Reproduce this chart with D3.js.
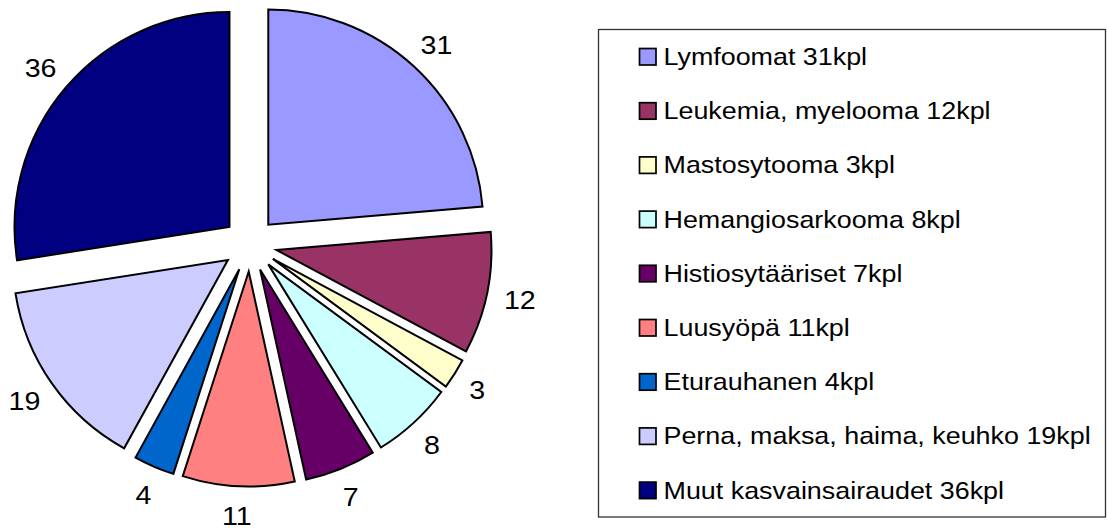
<!DOCTYPE html>
<html><head><meta charset="utf-8">
<script src="https://cdn.jsdelivr.net/npm/d3@7"></script>
<style>html,body{margin:0;padding:0;background:#fff;}svg{display:block;}</style>
</head><body>
<script>
const categories = ["Lymfoomat","Leukemia, myelooma","Mastosytooma","Hemangiosarkooma","Histiosytääriset","Luusyöpä","Eturauhanen","Perna, maksa, haima, keuhko","Muut kasvainsairaudet"];
const values = [31,12,3,8,7,11,4,19,36];
const colors = ["#9999FF","#993366","#FFFFCC","#CCFFFF","#660066","#FF8080","#0066CC","#CCCCFF","#000080"];
const legendLabels = categories.map((c,i)=>c+" "+values[i]+"kpl");

const W=1107,H=532;
const cx=250, cy=244.5, R=215, explode=27, labelR=262;
const fontFam='"Liberation Sans", Arial, sans-serif';
const stretch=1.1;

const svg=d3.select("body").append("svg").attr("width",W).attr("height",H);
const data=values.map((v,i)=>({v,i}));
const pie=d3.pie().value(d=>d.v).sort(null).startAngle(0).endAngle(2*Math.PI);
const arcs=pie(data);
const arc=d3.arc().innerRadius(0).outerRadius(R);

const g=svg.append("g").attr("transform",`translate(${cx},${cy})`);
g.selectAll("path").data(arcs).join("path")
  .attr("d",arc)
  .attr("transform",d=>{const m=(d.startAngle+d.endAngle)/2;return `translate(${explode*Math.sin(m)},${-explode*Math.cos(m)})`;})
  .attr("fill",d=>colors[d.data.i])
  .attr("stroke","#000").attr("stroke-width",2).attr("stroke-linejoin","miter");

// labels
const fs=26;
arcs.forEach(d=>{
  const m=(d.startAngle+d.endAngle)/2;
  const s=Math.sin(m), c=-Math.cos(m);
  const t=g.append("text").attr("font-family",fontFam).attr("font-size",fs).attr("fill","#000")
    .attr("text-anchor","middle").text(d.data.v);
  const w=t.node().getComputedTextLength()*stretch*0.85, h=20;
  const x=labelR*s + (w/2)*s, y=labelR*c + (h/2)*c;
  t.attr("transform",`translate(${x},${y+0.358*fs}) scale(${stretch},1)`);
});

// legend
const lg=svg.append("g");
lg.append("rect").attr("x",598.5).attr("y",29.5).attr("width",507).attr("height",487.5)
  .attr("fill","#fff").attr("stroke","#333").attr("stroke-width",1.3);
const base0=65, step=54.2;
legendLabels.forEach((lab,i)=>{
  const b=base0+i*step;
  lg.append("rect").attr("x",639.5).attr("y",b-16.5).attr("width",16.5).attr("height",16.5)
    .attr("fill",colors[i]).attr("stroke","#000").attr("stroke-width",1.7);
  lg.append("text").attr("font-family",fontFam).attr("font-size",24).attr("fill","#000")
    .attr("transform",`translate(663.5,${b}) scale(1.12,1)`).text(lab);
});
</script>
</body></html>
